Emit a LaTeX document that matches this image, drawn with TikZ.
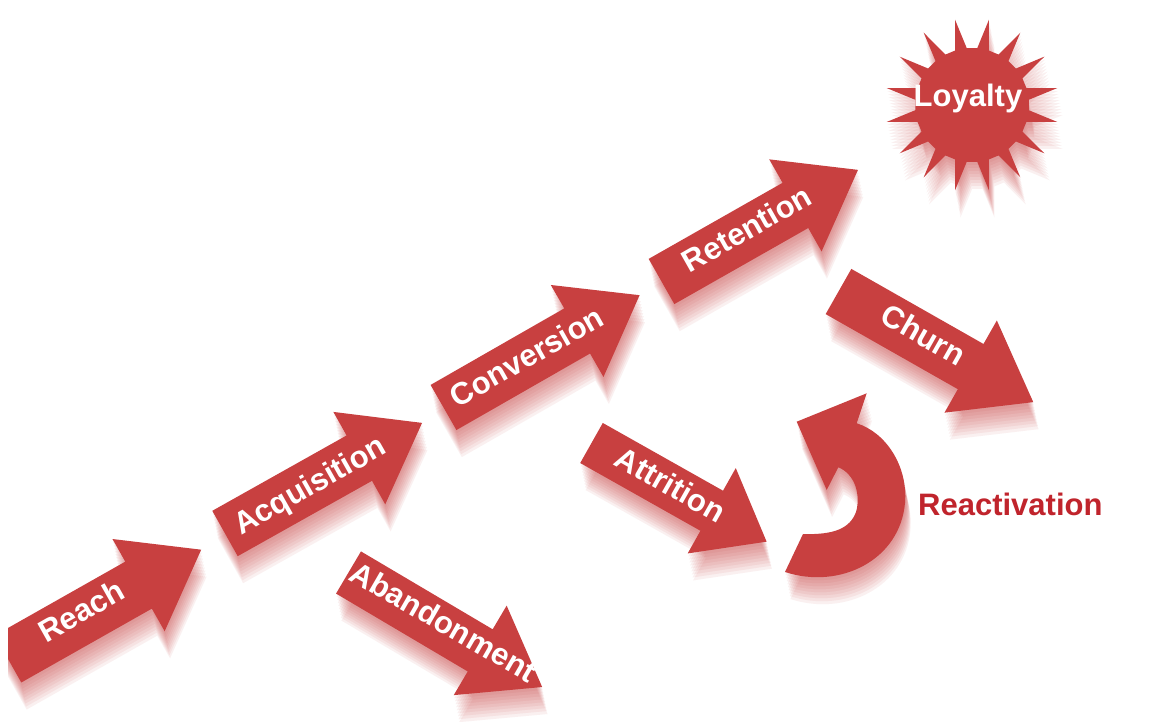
\documentclass[tikz,border=0pt]{standalone}
\usepackage{fontspec}
\setmainfont{Liberation Sans}
\definecolor{arrowred}{RGB}{200,64,64}
\definecolor{textred}{RGB}{192,36,44}
\tikzset{
  lbl/.style={text=white, font=\bfseries\fontsize{31}{36}\selectfont, inner sep=0pt, text height=0.72em, text depth=0pt, anchor=center},
  shadowcopy/.style={fill=arrowred, fill opacity=0.08},
  body/.style={fill=arrowred}
}
% #1 length, #2 half shaft width, #3 half head width, #4 head length
\newcommand\arrowpath[4]{(0,-#2) -- (#1-#4,-#2) -- (#1-#4,-#3) -- (#1,0) -- (#1-#4,#3) -- (#1-#4,#2) -- (0,#2) -- cycle}
% #1 x, #2 y (tail centre), #3 angle, #4 length, #5 half shaft, #6 half head, #7 head length
\newcommand\arrowshadow[7]{%
  \foreach \s in {3,6,...,27}{\fill[shadowcopy, shift={(#1+0.2*\s,#2+\s)}, rotate=#3] \arrowpath{#4}{#5}{#6}{#7};}}
\newcommand\arrowbody[7]{%
  \fill[body, shift={(#1,#2)}, rotate=#3] \arrowpath{#4}{#5}{#6}{#7};}
\def\starpath{(5.25:57) \foreach \k in {0,...,15}{ -- ({11.25+22.5*\k-6}:57) -- ({11.25+22.5*\k}:87) -- ({11.25+22.5*\k+6}:57)} -- cycle}
\def\reactpath{(785,572) .. controls (840,590) and (900,560) .. (905,503) .. controls (908,465) and (885,432) .. (856.7,423.3) -- (866.7,393.3) -- (796.7,421.7) -- (826.7,490) -- (838.3,467.3) .. controls (855,474) and (861,495) .. (856,512) .. controls (850,528) and (835,535) .. (803,534) -- cycle}
\begin{document}
\begin{tikzpicture}[x=1pt,y=-1pt]
\useasboundingbox[fill=white] (0,0) rectangle (1170,722);
\begin{scope}
\clip (8,0) rectangle (1170,722);
% shadows
\arrowshadow{8}{659}{29.5}{222}{27}{53}{72}
\arrowshadow{225}{533.5}{29.3}{226}{26}{53}{72}
\arrowshadow{443.5}{407.5}{29.8}{226}{26}{53}{72}
\arrowshadow{661.5}{281.5}{29.6}{226}{26}{53}{72}
\arrowshadow{838.5}{291.5}{-29.6}{224}{26}{53}{72}
\arrowshadow{591.5}{443}{-29.4}{201}{23}{49}{63}
\arrowshadow{348.5}{572.5}{-30.6}{225}{24.5}{52}{72}
\foreach \s in {3,6,...,27}{\fill[shadowcopy, shift={(972+0.2*\s,105+\s)}] \starpath;}
\foreach \s in {3,6,...,27}{\fill[shadowcopy, shift={(0.2*\s,\s)}] \reactpath;}
% bodies
\arrowbody{8}{659}{29.5}{222}{27}{53}{72}
\arrowbody{225}{533.5}{29.3}{226}{26}{53}{72}
\arrowbody{443.5}{407.5}{29.8}{226}{26}{53}{72}
\arrowbody{661.5}{281.5}{29.6}{226}{26}{53}{72}
\arrowbody{838.5}{291.5}{-29.6}{224}{26}{53}{72}
\arrowbody{591.5}{443}{-29.4}{201}{23}{49}{63}
\arrowbody{348.5}{572.5}{-30.6}{225}{24.5}{52}{72}
\fill[body, shift={(972,105)}] \starpath;
\fill[body] \reactpath;
\end{scope}
% labels
\node[lbl, rotate=29.5] (reach) at (85,617) {Reach};
\node[lbl, rotate=29.5] (acquisition) at (313,491) {Acquisition};
\node[lbl, rotate=29.5] (conversion) at (530,363) {Conversion};
\node[lbl, rotate=29.5] (retention) at (750,235) {Retention};
\node[lbl, rotate=-29.6] (churn) at (920,341) {Churn};
\node[lbl, rotate=-29.6] (attrition) at (667,491) {Attrition};
\node[lbl, rotate=-30] (abandonment) at (440,628) {Abandonment};
\node[lbl] (loyalty) at (968,103) {Loyalty};
\node[anchor=base west, inner sep=0pt, text=textred, font=\bfseries\fontsize{31}{36}\selectfont] (reactivation) at (918,515) {Reactivation};
\end{tikzpicture}
\end{document}
